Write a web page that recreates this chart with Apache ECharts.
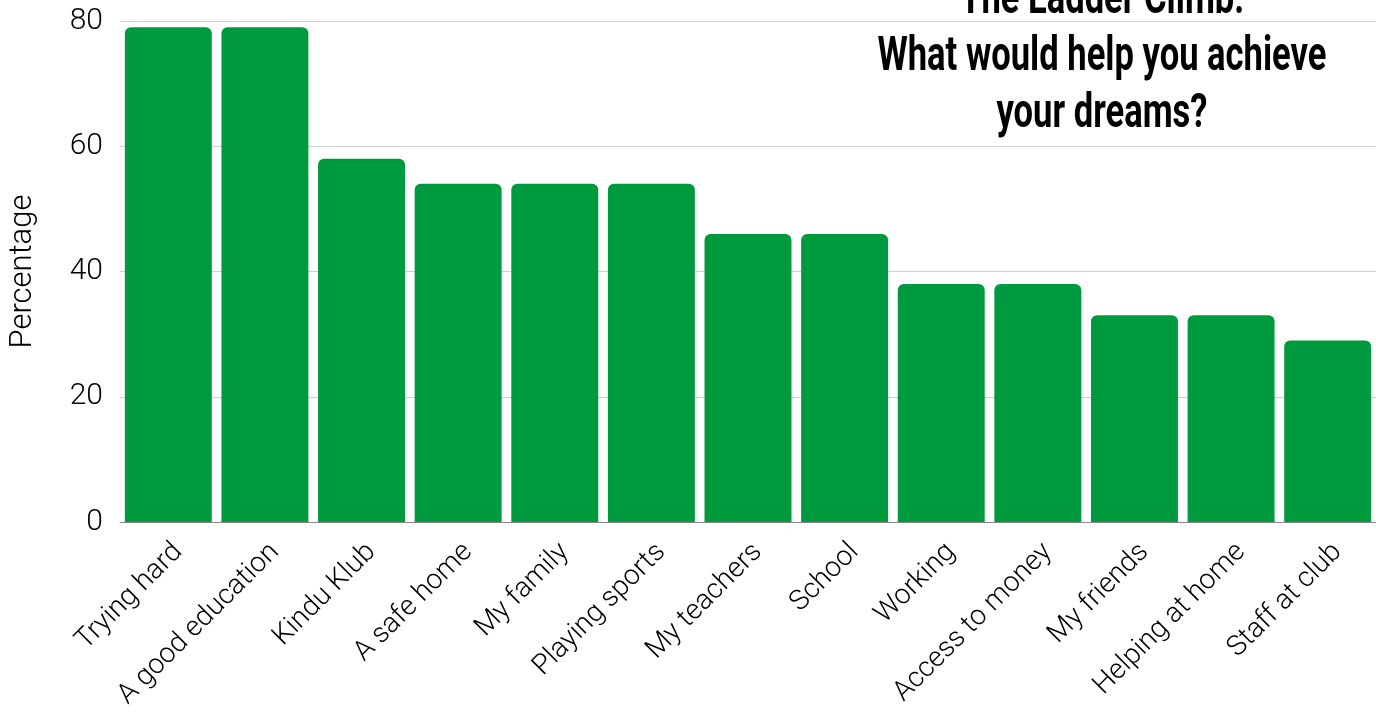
<!DOCTYPE html>
<html>
<head>
<meta charset="utf-8">
<script src="https://cdn.jsdelivr.net/npm/echarts@6/dist/echarts.min.js"></script>
<style>
  html, body { margin: 0; padding: 0; background: #fff; }
  #main { width: 1376px; height: 722px; }
</style>
</head>
<body>
<div id="main"></div>
<script>
// data
const categories = ['Trying hard', 'A good education', 'Kindu Klub', 'A safe home', 'My family',
  'Playing sports', 'My teachers', 'School', 'Working', 'Access to money', 'My friends',
  'Helping at home', 'Staff at club'];
const percentages = [79, 79, 58, 54, 54, 54, 46, 46, 38, 38, 33, 33, 29];
const yTicks = [0, 20, 40, 60, 80];
const titleText = 'The Ladder Climb:\nWhat would help you achieve\nyour dreams?';

const chart = echarts.init(document.getElementById('main'));

const option = {
  animation: false,
  // condensed bold title, squeezed horizontally since no condensed font is installed
  graphic: [
    {
      type: 'text',
      x: 1102,
      y: -28,
      scaleX: 0.72,
      style: {
        text: titleText,
        font: 'bold 48px Roboto',
        lineHeight: 57,
        align: 'center',
        verticalAlign: 'top',
        fill: '#000'
      }
    }
  ],
  grid: {
    left: 119,
    right: 0,
    top: 21,
    bottom: 200
  },
  xAxis: {
    type: 'category',
    data: categories,
    axisTick: { show: false },
    axisLine: { lineStyle: { color: '#888', width: 1 } },
    axisLabel: {
      rotate: 45,
      interval: 0,
      margin: 16,
      verticalAlign: 'top',
      fontFamily: 'Roboto',
      fontWeight: 300,
      fontSize: 28,
      color: '#000'
    }
  },
  yAxis: {
    type: 'value',
    min: yTicks[0],
    max: yTicks[yTicks.length - 1],
    interval: 20,
    name: 'Percentage',
    nameLocation: 'middle',
    nameGap: 81,
    nameTextStyle: {
      fontFamily: 'Roboto',
      fontWeight: 300,
      fontSize: 31,
      color: '#000'
    },
    axisLine: { show: false },
    axisTick: { show: false },
    axisLabel: {
      margin: 17,
      fontFamily: 'Roboto',
      fontWeight: 300,
      fontSize: 30,
      color: '#000'
    },
    splitLine: { lineStyle: { color: '#cfcfcf', width: 1 } }
  },
  series: [
    {
      type: 'bar',
      data: percentages,
      barCategoryGap: '10%',
      itemStyle: {
        color: '#009a3e',
        borderRadius: [6, 6, 0, 0]
      }
    }
  ]
};

chart.setOption(option);
</script>
</body>
</html>
